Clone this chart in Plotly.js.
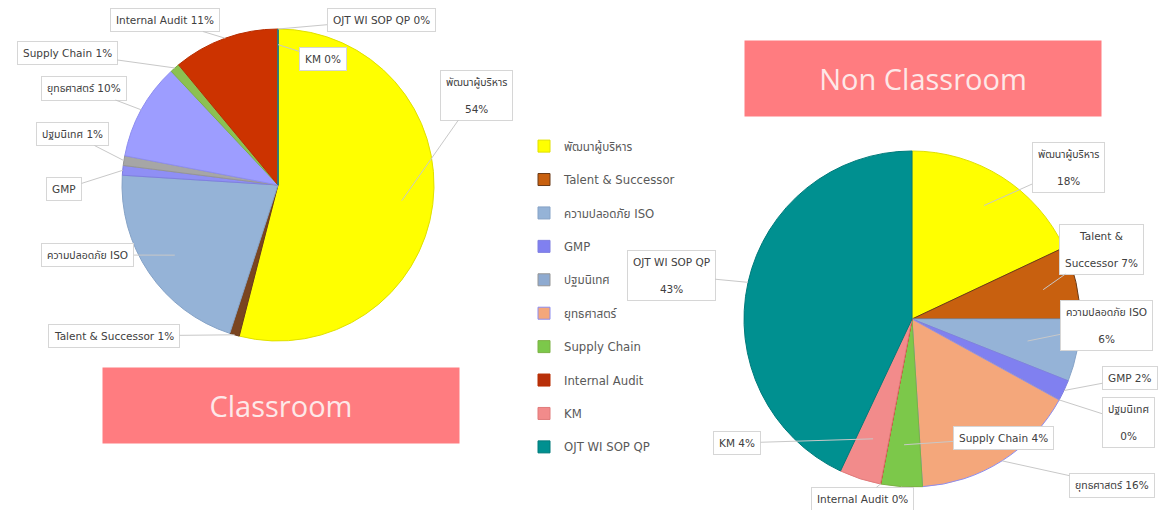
<!DOCTYPE html>
<html>
<head>
<meta charset="utf-8">
<script src="https://cdn.plot.ly/plotly-3.0.1.min.js"></script>
<style>html,body{margin:0;padding:0;background:#fff;}#chart{width:1172px;height:510px;}</style>
</head>
<body>
<div id="chart"></div>
<script>
// ---- data ----
const categories = ["พัฒนาผู้บริหาร", "Talent & Successor", "ความปลอดภัย ISO", "GMP", "ปฐมนิเทศ",
                    "ยุทธศาสตร์", "Supply Chain", "Internal Audit", "KM", "OJT WI SOP QP"];
const classroomValues    = [54, 1, 21, 1, 1, 10, 1, 11, 0, 0];
const nonClassroomValues = [18, 7, 6, 2, 0, 16, 4, 0, 4, 43];
// whether the data label shows the percentage (left chart omits it for two slices)
const classroomShowPct    = [true, true, false, false, true, true, true, true, true, true];
const nonClassroomShowPct = [true, true, true, true, true, true, true, true, true, true];
const titleClassroom = "Classroom";
const titleNonClassroom = "Non Classroom";

// ---- styles / layout ----
const W = 1172, H = 510;
const FONT = "DejaVu Sans, Noto Sans Thai, Noto Sans, sans-serif";
const classroomColors    = ["#ffff00", "#7a4520", "#95b3d7", "#8f8ff5", "#a6a6a6", "#9d9dff", "#8cc152", "#cc3300", "#f28b8b", "#008b8b"];
const nonClassroomColors = ["#ffff00", "#c8600f", "#95b3d7", "#8080f0", "#8eaad0", "#f4a77b", "#7cc84a", "#b8300a", "#f28b8b", "#009090"];
const lineColors         = ["#e0e000", "#6a3a18", "#86a3c7", "#7f7fe0", "#969696", "#8d8df0", "#7cb145", "#b82d00", "#e07b7b", "#007b7b"];

const leftGeo  = {cx: 278, cy: 185, r: 156};
const rightGeo = {cx: 912, cy: 319, r: 168};
// label box centre (px) and how far in the slice the leader points (fraction of radius)
const leftLabelPos = [[476, 95, 0.8], [114, 336, 1.0], [88, 255, 0.8], [64, 189, 1.0], [72, 134, 1.0],
                      [84, 88, 1.0], [67, 53, 1.0], [165, 20, 1.0], [323, 59, 0.9], [381, 20, 1.0]];
const leftLabelBreak = [true, false, false, false, false, false, false, false, false, false];
const rightLabelPos = [[1068, 168, 0.8], [1101, 249, 0.8], [1106, 325, 0.7], [1130, 378, 1.0], [1128, 422, 1.0],
                       [1112, 485, 1.0], [1003, 438, 0.75], [862, 499, 1.0], [737, 443, 0.75], [671, 275, 1.0]];
const rightLabelBreak = [true, false, true, false, true, false, false, false, false, true];

function domainOf(g) {
  return {x: [(g.cx - g.r) / W, (g.cx + g.r) / W], y: [1 - (g.cy + g.r) / H, 1 - (g.cy - g.r) / H]};
}
function tipOf(g, vals, i, f) {
  const tot = vals.reduce((a, b) => a + b, 0);
  let cum = 0; for (let k = 0; k < i; k++) cum += vals[k];
  const th = (cum + vals[i] / 2) / tot * 2 * Math.PI;
  return [g.cx + f * g.r * Math.sin(th), g.cy - f * g.r * Math.cos(th)];
}
function labelText(i, vals, showPct, brk, isRight) {
  const tot = vals.reduce((a, b) => a + b, 0);
  let name = categories[i];
  if (isRight && i === 1) name = "Talent &<br><br>Successor";
  if (!showPct[i]) return name;
  const pct = Math.round(vals[i] / tot * 100) + "%";
  return name + (brk[i] ? "<br><br>" : " ") + pct;
}
function makeLabels(g, vals, showPct, pos, brk, isRight) {
  return categories.map((c, i) => {
    const t = tipOf(g, vals, i, pos[i][2]);
    return {
      xref: "paper", yref: "paper", x: t[0] / W, y: 1 - t[1] / H,
      ax: pos[i][0] - t[0], ay: pos[i][1] - t[1],
      text: labelText(i, vals, showPct, brk, isRight),
      showarrow: true, arrowhead: 0, arrowwidth: 1, arrowcolor: "#c8c8c8", standoff: 0,
      bgcolor: "#ffffff", bordercolor: "#d6d6d6", borderwidth: 1, borderpad: 5,
      font: {family: FONT, size: 10.5, color: "#404040"}
    };
  });
}

const legendLabels = categories.map(c => c + "<br> ");

const traces = [
  {
    type: "pie", name: titleNonClassroom, labels: legendLabels, values: nonClassroomValues,
    sort: false, direction: "clockwise", rotation: 0, textinfo: "none",
    marker: {colors: nonClassroomColors, line: {color: lineColors, width: 1}},
    domain: domainOf(rightGeo), hoverinfo: "label+percent"
  },
  {
    type: "pie", name: titleClassroom, labels: legendLabels, values: classroomValues,
    sort: false, direction: "clockwise", rotation: 0, textinfo: "none",
    marker: {colors: classroomColors, line: {color: lineColors, width: 1}},
    domain: domainOf(leftGeo), hoverinfo: "label+percent"
  }
];

const titleBox = (text, cx, cy) => ({
  xref: "paper", yref: "paper", x: cx / W, y: 1 - cy / H, xanchor: "center", yanchor: "middle",
  text: text, showarrow: false, width: 356, height: 75, borderpad: 0, bgcolor: "#ff7c80",
  font: {family: "Open Sans, Noto Sans, sans-serif", size: 29, color: "#fde8e8"}
});

const layout = {
  width: W, height: H,
  margin: {l: 0, r: 0, t: 0, b: 0},
  paper_bgcolor: "#ffffff",
  showlegend: true,
  legend: {x: 524 / W, xanchor: "left", y: 1 - 132 / H, yanchor: "top", valign: "top",
           font: {family: FONT, size: 11.7, color: "#595959"}, bgcolor: "rgba(0,0,0,0)"},
  annotations: [
    ...makeLabels(leftGeo, classroomValues, classroomShowPct, leftLabelPos, leftLabelBreak, false),
    ...makeLabels(rightGeo, nonClassroomValues, nonClassroomShowPct, rightLabelPos, rightLabelBreak, true),
    titleBox(titleClassroom, 281, 405),
    titleBox(titleNonClassroom, 923, 78)
  ]
};

Plotly.newPlot("chart", traces, layout, {displayModeBar: false, staticPlot: true});
</script>
</body>
</html>
